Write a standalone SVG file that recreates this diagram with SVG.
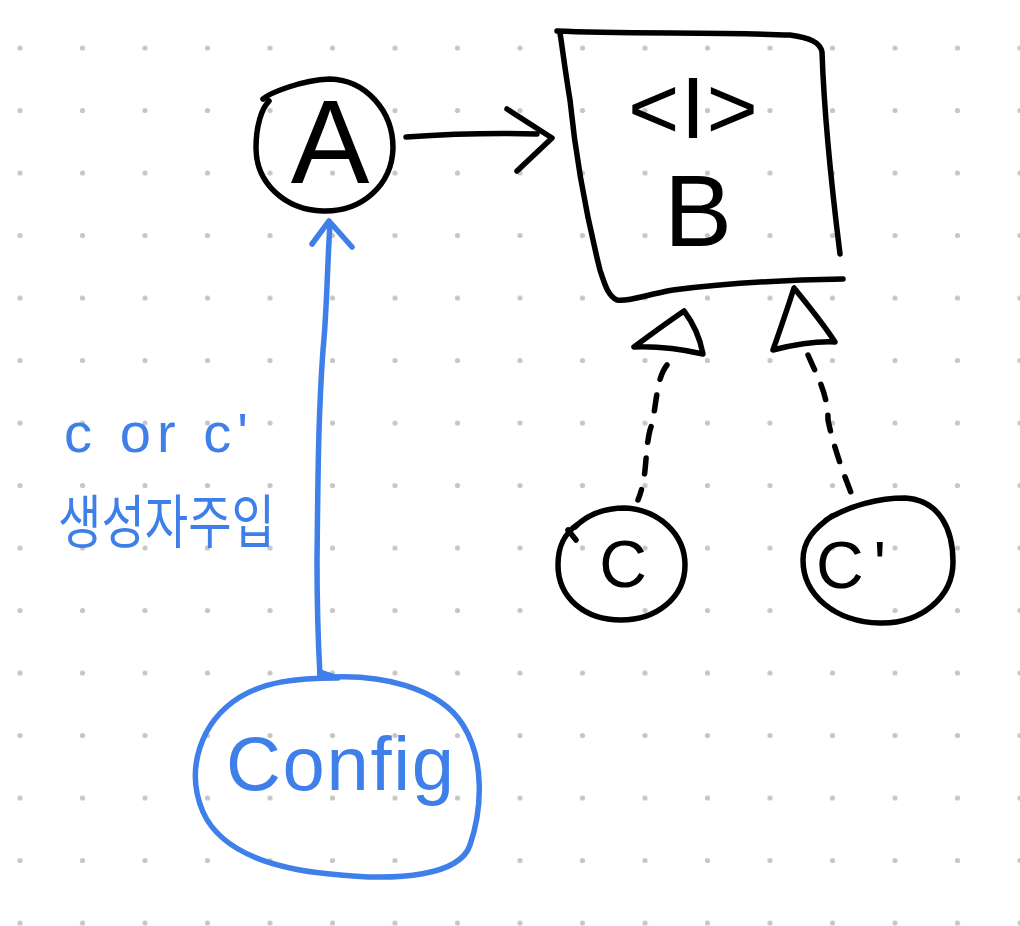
<svg xmlns="http://www.w3.org/2000/svg" width="1020" height="926" viewBox="0 0 1020 926">
  <defs>
    <pattern id="dots" x="-11.25" y="16.75" width="62.5" height="62.5" patternUnits="userSpaceOnUse">
      <circle cx="31.25" cy="31.25" r="2.6" fill="#c6c6c6"/>
    </pattern>
    <style>
      .ink { fill: none; stroke: #000; stroke-width: 5.5; stroke-linecap: round; stroke-linejoin: round; }
      .blue { fill: none; stroke: #3f7fe9; stroke-width: 5.5; stroke-linecap: round; stroke-linejoin: round; }
      .dash { stroke-dasharray: 16 16; }
      .lbl { font-family: "Liberation Sans", "Noto Sans CJK KR", sans-serif; fill: #000; }
      .blbl { font-family: "Liberation Sans", "Noto Sans CJK KR", sans-serif; fill: #3f7fe9; }
    </style>
  </defs>
  <rect width="1020" height="926" fill="#ffffff"/>
  <rect width="1020" height="926" fill="url(#dots)"/>

  <g id="connectors">
    <!-- A -> B -->
    <path class="ink" d="M406,137 C450,134 500,133 537,134"/>
    <path class="ink" d="M507,109 L552,138 L517,171"/>
    <!-- C -> B realization (dashed + hollow triangle) -->
    <path class="ink dash" d="M667,365 C655,380 657,410 650,430 C644,455 648,475 638,500"/>
    <path class="ink" d="M684,311 C668,322 650,335 634,347 C660,346 685,350 703,354 C700,338 694,324 684,311 Z"/>
    <!-- C' -> B realization -->
    <path class="ink dash" d="M808,355 C818,378 828,395 828,420 C832,440 840,465 852,495"/>
    <path class="ink" d="M794,288 C787,310 780,330 773,350 C793,345 813,341 835,342 C822,322 808,305 794,288 Z"/>
    <!-- Config -> A (constructor injection) -->
    <path class="blue" d="M330,224 C327,270 327,310 323,350 C318,420 318,480 317,560 C317,610 318,640 320,676"/>
    <path class="blue" d="M312,244 L329,221 L352,247"/>
    <path class="blue" d="M320,672 L338,678"/>
  </g>

  <g id="node-A">
    <path class="ink" d="M263,99 C268,94 300,80 330,79 C365,80 393,110 393,148 C392,185 362,212 323,211 C285,210 256,183 256,148 C256,125 262,108 269,101"/>
    <text class="lbl" x="330" y="183" font-size="118" text-anchor="middle">A</text>
  </g>

  <g id="node-B">
    <path class="ink" d="M557,31 C620,34 720,32 790,35 C810,38 820,42 822,52 C824,110 832,190 840,254"/>
    <path class="ink" d="M843,279 C780,280 720,284 673,290 C645,295 628,302 617,300 C608,296 605,285 600,270 C585,210 575,150 570,100 C565,70 562,45 560,33"/>
    <text class="lbl" x="693" y="138" font-size="88" text-anchor="middle" textLength="130" lengthAdjust="spacing">&lt;I&gt;</text>
    <text class="lbl" x="698" y="246" font-size="102" text-anchor="middle">B</text>
  </g>

  <g id="node-C">
    <path class="ink" d="M575,527 C590,512 610,508 625,508 C660,510 685,535 685,565 C685,598 656,620 621,620 C585,620 558,598 558,565 C558,545 565,533 578,524 M568,530 L576,540"/>
    <text class="lbl" x="623" y="587" font-size="66" text-anchor="middle">C</text>
  </g>

  <g id="node-C-prime">
    <path class="ink" d="M826,520 C850,505 880,498 905,498 C940,500 953,530 953,562 C953,598 920,624 880,623 C835,622 803,595 803,560 C803,540 815,528 832,516"/>
    <text class="lbl" x="816" y="588" font-size="66" textLength="70" lengthAdjust="spacing">C'</text>
  </g>

  <g id="node-Config">
    <path class="blue" d="M318,678 C380,672 440,688 463,725 C485,760 482,810 470,845 C460,875 400,882 330,874 C268,868 220,850 203,812 C185,770 200,722 240,697 C265,682 295,678 336,678"/>
    <text class="blbl" x="226" y="790" font-size="76" textLength="228" lengthAdjust="spacing">Config</text>
  </g>

  <g id="label-injection">
    <text class="blbl" x="64" y="452" font-size="56" textLength="184" lengthAdjust="spacing">c or c'</text>
    <text class="blbl" x="58" y="543" font-size="58" textLength="217" lengthAdjust="spacingAndGlyphs">생성자주입</text>
  </g>
</svg>
